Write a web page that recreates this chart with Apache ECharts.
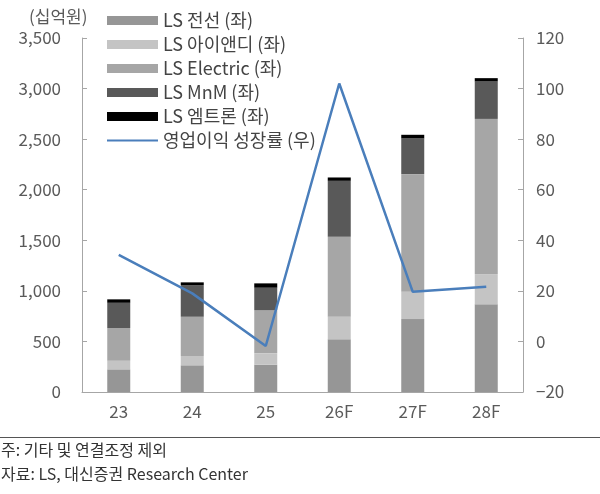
<!DOCTYPE html>
<html><head><meta charset="utf-8">
<script src="https://cdn.jsdelivr.net/npm/echarts@6/dist/echarts.min.js"></script>
<style>html,body{margin:0;padding:0;background:#fff}#c{width:600px;height:494px}</style>
</head><body><div id="c"></div>
<script>
const categories = ['23','24','25','26F','27F','28F'];
const lsCable = [224, 264, 270, 521, 721, 867];
const lsIND = [85, 92, 112, 223, 270, 299];
const lsElectric = [323, 388, 428, 791, 1163, 1534];
const lsMnM = [250, 313, 221, 553, 353, 370];
const lsMtron = [34, 27, 43, 33, 36, 33];
const opGrowth = [34.2, 19.0, -1.8, 102, 19.6, 21.6];
const leftTicks = {min: 0, max: 3500, interval: 500};
const rightTicks = {min: -20, max: 120, interval: 20};

const FONT = '"Noto Sans CJK KR", "Noto Sans", sans-serif';
const chart = echarts.init(document.getElementById('c'), null, {renderer: 'canvas'});
const axisCol = '#a6a6a6';
const txtCol = '#5a5a5a';
function bar(name, data, color) {
  return {name, type: 'bar', stack: 'total', data, barWidth: 23, itemStyle: {color}, yAxisIndex: 0};
}
chart.setOption({
  animation: false,
  textStyle: {fontFamily: FONT},
  grid: {left: 82, right: 77, top: 38, bottom: 102, containLabel: false},
  legend: {
    orient: 'vertical', left: 102, top: 6, itemGap: 5, itemWidth: 51, itemHeight: 9,
    textStyle: {fontSize: 18, lineHeight: 19, color: '#444', fontFamily: FONT},
    data: [
      {name: 'LS 전선 (좌)', icon: 'rect'},
      {name: 'LS 아이앤디 (좌)', icon: 'rect'},
      {name: 'LS Electric (좌)', icon: 'rect'},
      {name: 'LS MnM (좌)', icon: 'rect'},
      {name: 'LS 엠트론 (좌)', icon: 'rect'},
      {name: '영업이익 성장률 (우)', icon: 'path://M0,4 L50,4 L50,6 L0,6 Z'}
    ]
  },
  xAxis: {
    type: 'category', data: categories,
    axisLine: {lineStyle: {color: axisCol}},
    axisTick: {inside: true, length: 5, lineStyle: {color: axisCol}},
    axisLabel: {fontSize: 17, color: txtCol, margin: 11, fontFamily: FONT}
  },
  yAxis: [
    {type: 'value', min: leftTicks.min, max: leftTicks.max, interval: leftTicks.interval,
     axisLine: {show: true, lineStyle: {color: axisCol}},
     axisTick: {show: true, inside: true, length: 5, lineStyle: {color: axisCol}},
     splitLine: {show: false},
     axisLabel: {fontSize: 17, color: txtCol, margin: 21, fontFamily: FONT,
       formatter: v => v.toLocaleString('en-US')}},
    {type: 'value', min: rightTicks.min, max: rightTicks.max, interval: rightTicks.interval,
     axisLine: {show: true, lineStyle: {color: axisCol}},
     axisTick: {show: true, inside: true, length: 5, lineStyle: {color: axisCol}},
     splitLine: {show: false},
     axisLabel: {fontSize: 17, color: txtCol, margin: 13, fontFamily: FONT,
       formatter: v => v < 0 ? '\u2212' + Math.abs(v) : String(v)}}
  ],
  series: [
    bar('LS 전선 (좌)', lsCable, '#969696'),
    bar('LS 아이앤디 (좌)', lsIND, '#c4c4c4'),
    bar('LS Electric (좌)', lsElectric, '#a6a6a6'),
    bar('LS MnM (좌)', lsMnM, '#595959'),
    bar('LS 엠트론 (좌)', lsMtron, '#000000'),
    {name: '영업이익 성장률 (우)', type: 'line', yAxisIndex: 1, data: opGrowth,
     symbol: 'none', lineStyle: {color: '#4a7ebb', width: 2.5}, itemStyle: {color: '#4a7ebb'}}
  ],
  graphic: [
    {type: 'text', left: 29, top: 8, style: {text: '(십억원)', fontSize: 17, fill: txtCol, fontFamily: FONT}},
    {type: 'line', shape: {x1: 0, y1: 437.5, x2: 600, y2: 437.5}, style: {stroke: '#555', lineWidth: 1}},
    {type: 'text', left: 1, top: 442, style: {text: '주: 기타 및 연결조정 제외', fontSize: 16, fill: '#333', fontFamily: FONT}},
    {type: 'text', left: 1, top: 466, style: {text: '자료: LS, 대신증권 Research Center', fontSize: 16, fill: '#333', fontFamily: FONT}}
  ]
});
</script></body></html>
